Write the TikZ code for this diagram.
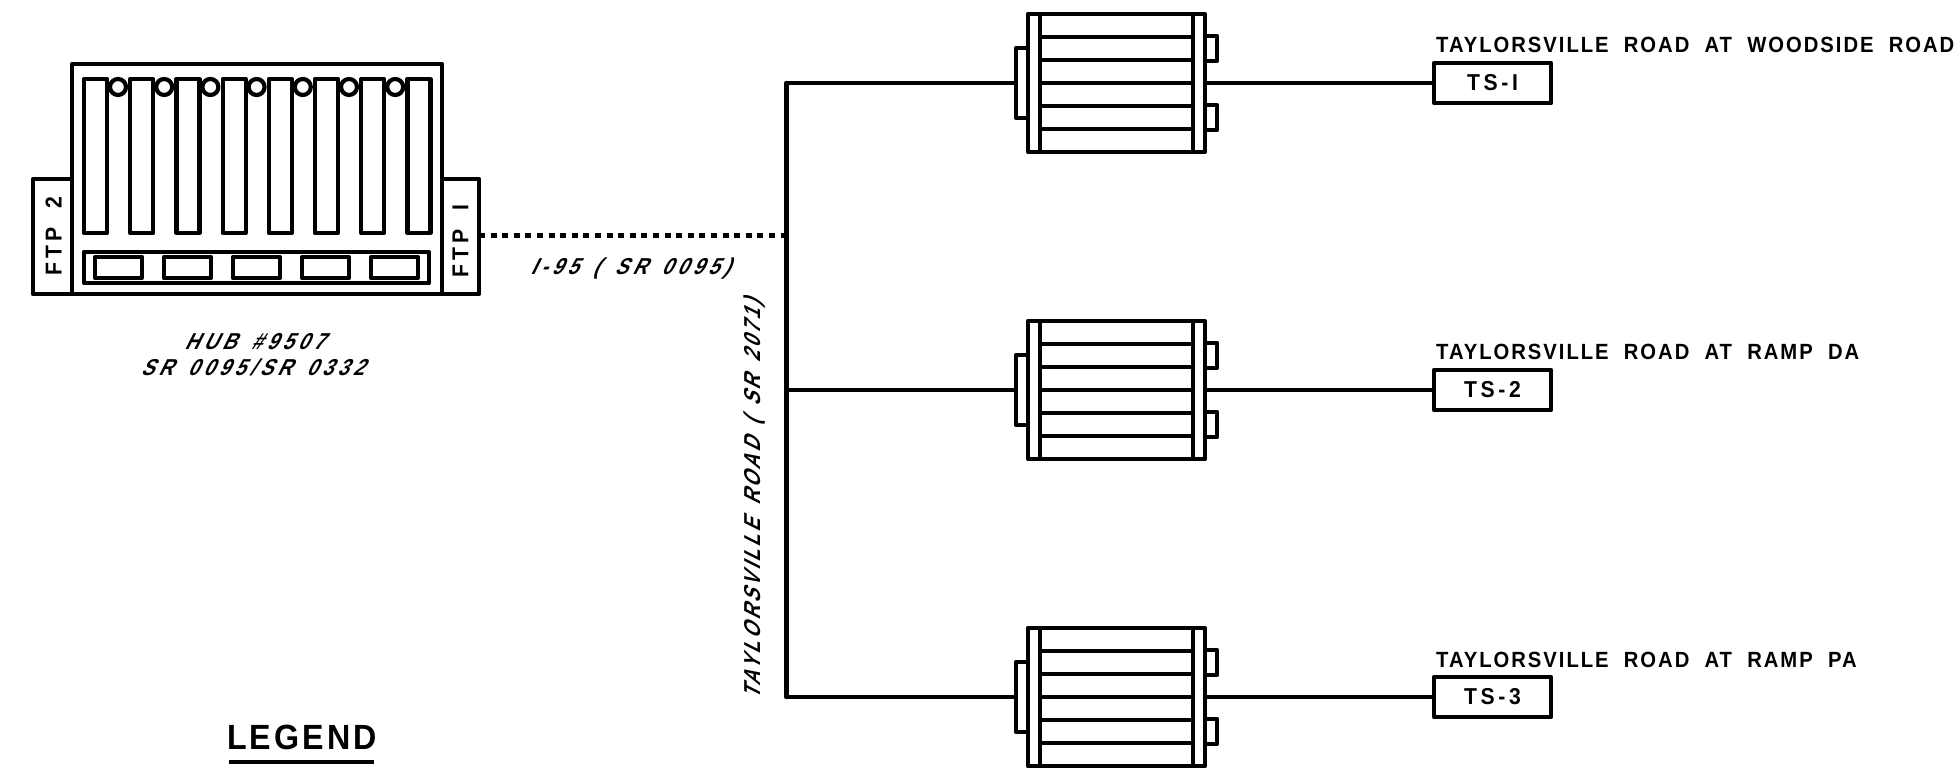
\documentclass[tikz,border=0pt]{standalone}
\usepackage{fontspec}
\newfontfamily\plainfont[FakeStretch=0.92,LetterSpace=9,WordSpace=2]{Liberation Sans Bold}
\newfontfamily\boxfont[FakeStretch=0.92,LetterSpace=16,WordSpace=2]{Liberation Sans Bold}
\newfontfamily\slantfont[FakeSlant=0.5,FakeStretch=0.85,LetterSpace=14,WordSpace=1.5]{Liberation Sans Bold}
\newfontfamily\slantwide[FakeSlant=0.5,FakeStretch=0.85,LetterSpace=20,WordSpace=1.5]{Liberation Sans Bold}
\tikzset{
  ln/.style={line width=4.2pt,line join=round,line cap=round},
  whitebox/.style={draw,fill=white,ln},
  lab/.style={inner sep=0pt,font=\plainfont\fontsize{22}{22}\selectfont,anchor=base west},
  ftplab/.style={inner sep=0pt,font=\boxfont\fontsize{23}{23}\selectfont,anchor=center,rotate=90},
  stl/.style={inner sep=0pt,font=\slantfont\fontsize{23}{23}\selectfont},
  stw/.style={inner sep=0pt,font=\slantwide\fontsize{23}{23}\selectfont},
  tsbox/.style={draw,ln,fill=white,minimum width=117pt,minimum height=40pt,inner sep=0pt,font=\boxfont\fontsize{23}{23}\selectfont},
}
\newcommand{\signalunit}[1]{%
  \begin{scope}[shift={(0,#1)}]
    \draw[whitebox] (1016,48) rectangle (1028,118);
    \draw[whitebox] (1205,36) rectangle (1217,61);
    \draw[whitebox] (1205,105) rectangle (1217,130);
    \draw[whitebox] (1028,14) rectangle (1205,152);
    \draw[ln] (1040,14) -- (1040,152);
    \draw[ln] (1193,14) -- (1193,152);
    \foreach \yy in {37,60,83,106,129} \draw[ln] (1040,\yy) -- (1193,\yy);
  \end{scope}
}
\begin{document}
\begin{tikzpicture}[x=1pt,y=-1pt]
\useasboundingbox (0,0) rectangle (1960,783);
% hub
\draw[whitebox] (33,179) rectangle (72,294);
\draw[whitebox] (442,179) rectangle (479,294);
\draw[whitebox] (72,64) rectangle (442,294);
\foreach \i in {0,...,7} \draw[ln] ({84+46.2*\i},79) rectangle ({107+46.2*\i},233);
\foreach \i in {0,...,6} \draw[ln,fill=white] ({118+46.2*\i},87) circle (8);
\draw[ln] (84,252) rectangle (429,283);
\foreach \i in {0,...,4} \draw[ln] ({95+69*\i},257) rectangle ({142+69*\i},278);
\node[ftplab] (ftptwo) at (53.5,236) {FTP 2};
\node[ftplab] (ftpone) at (460.5,241) {FTP I};
\coordinate (hubport) at (479,235.5);
\coordinate (trunktop) at (786.5,83);
\coordinate (trunkmid) at (786.5,390);
\coordinate (trunkbot) at (786.5,697);
\coordinate (trunkhub) at (786.5,235.5);
\draw[ln] (trunktop) -- (trunkbot);
\draw[line width=4.6pt,dash pattern=on 6pt off 5.6pt] (hubport) -- (trunkhub);
% signals
\signalunit{0}
\signalunit{307}
\signalunit{614}
\node[tsbox] (tsa) at (1492.5,83) {TS-I};
\node[tsbox] (tsb) at (1492.5,390) {TS-2};
\node[tsbox] (tsc) at (1492.5,697) {TS-3};
\coordinate (sa) at (1016,83); \coordinate (sb) at (1016,390); \coordinate (sc) at (1016,697);
\coordinate (ea) at (1205,83); \coordinate (eb) at (1205,390); \coordinate (ec) at (1205,697);
\draw[ln] (trunktop) -- (sa);
\draw[ln] (trunkmid) -- (sb);
\draw[ln] (trunkbot) -- (sc);
\draw[ln] (ea) -- (tsa);
\draw[ln] (eb) -- (tsb);
\draw[ln] (ec) -- (tsc);
\node[lab] (la) at (1436,53) {TAYLORSVILLE ROAD AT WOODSIDE ROAD};
\node[lab] (lb) at (1436,360) {TAYLORSVILLE ROAD AT RAMP DA};
\node[lab] (lc) at (1436,667) {TAYLORSVILLE ROAD AT RAMP PA};
% italics
\node[stw] (road) at (630,269) {I-95 ( SR 0095)};
\node[stl,rotate=90] (tay) at (755,500) {TAYLORSVILLE ROAD ( SR 2071)};
\node[stw] (huba) at (254,342) {HUB \#9507};
\node[stw] (hubb) at (252,367) {SR 0095/SR 0332};
\node[inner sep=0pt,font=\plainfont\fontsize{35}{35}\selectfont] (leg) at (302,737) {LEGEND};
\draw[line width=4.6pt] (229,762) -- (374,762);
\end{tikzpicture}
\end{document}
